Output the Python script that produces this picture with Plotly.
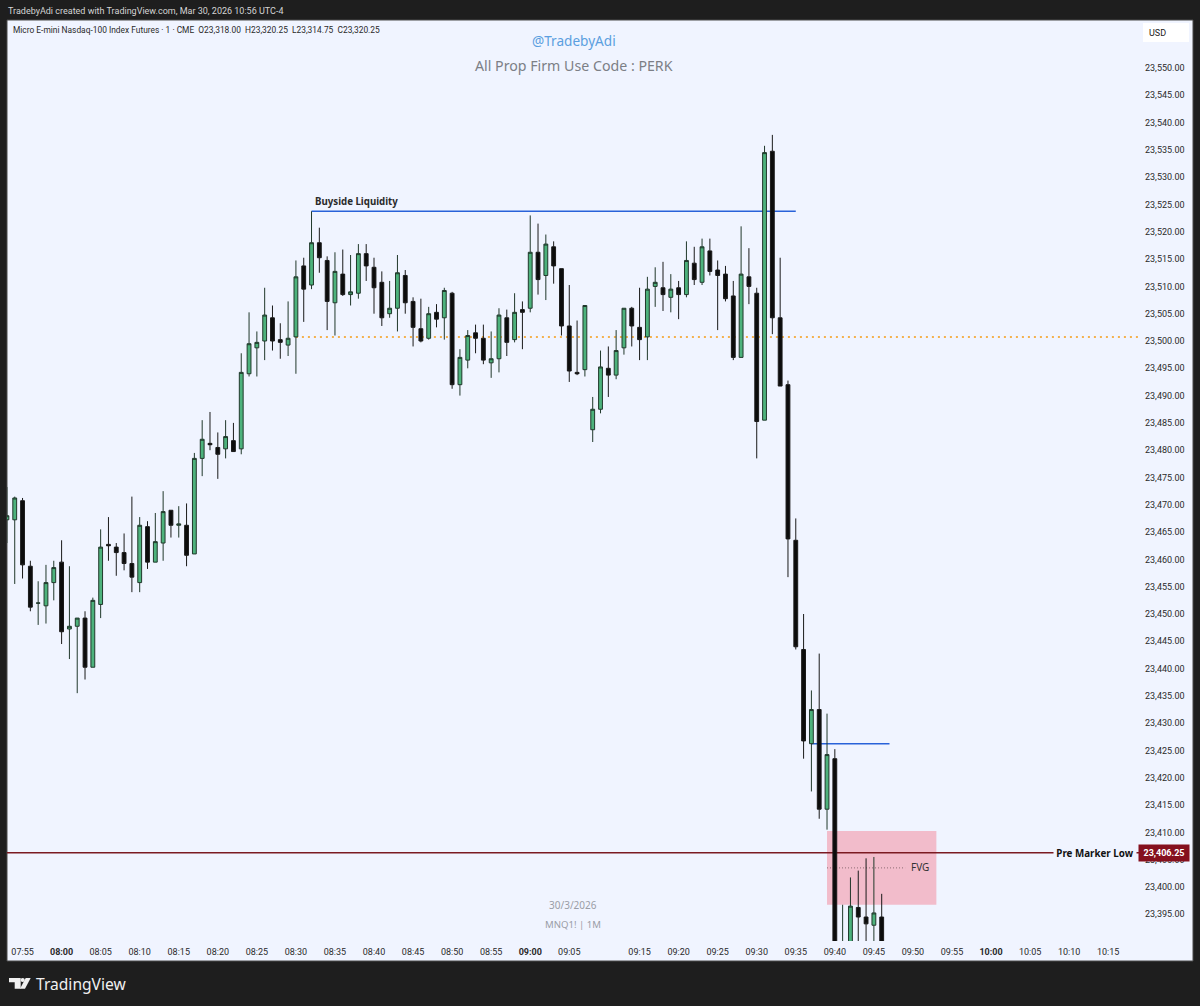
# MNQ 1 minute chart, TradingView look
import plotly.graph_objects as go

times = ["07:53","07:54","07:55","07:56","07:57","07:58","07:59",
         "08:00","08:01","08:02","08:03","08:04","08:05","08:06","08:07","08:08","08:09",
         "08:10","08:11","08:12","08:13","08:14","08:15","08:16","08:17","08:18","08:19",
         "08:20","08:21","08:22","08:23","08:24","08:25","08:26","08:27","08:28","08:29",
         "08:30","08:31","08:32","08:33","08:34","08:35","08:36","08:37","08:38","08:39",
         "08:40","08:41","08:42","08:43","08:44","08:45","08:46","08:47","08:48","08:49",
         "08:50","08:51","08:52","08:53","08:54","08:55","08:56","08:57","08:58","08:59",
         "09:00","09:01","09:02","09:03","09:04","09:05","09:06","09:07","09:08","09:09",
         "09:11","09:12","09:13","09:14","09:15","09:16","09:17","09:18","09:19",
         "09:20","09:21","09:22","09:23","09:24","09:25","09:26","09:27","09:28","09:29",
         "09:30","09:31","09:32","09:33","09:34","09:35","09:36","09:37","09:38","09:39",
         "09:40","09:41","09:42","09:43","09:44","09:45","09:46"]

future_times = ["09:47","09:48","09:49","09:50","09:51","09:52","09:53","09:54","09:55","09:56",
                "09:57","09:58","09:59","10:00","10:01","10:02","10:03","10:04","10:05","10:06",
                "10:07","10:08","10:09","10:10","10:11","10:12","10:13","10:14","10:15","10:16",
                "10:17","10:18","10:19","10:20"]

opens = [23467.25,23467.25,23470.75,23458.75,23452,23451.5,23455.75,
         23459.5,23447.25,23447.75,23449.25,23440.25,23451.75,23462.75,23462.25,23461.25,23459.25,
         23455.75,23466,23459.5,23463,23469,23466.25,23466.25,23461,23478.5,23481.25,
         23480.5,23480.25,23481.75,23480.25,23494,23498.75,23500,23504.25,23500.25,23499.25,
         23500.75,23513.75,23510.25,23518,23514.75,23507,23512.25,23508.5,23508.75,23516,
         23513.5,23510.75,23505,23506,23512,23507.25,23502.25,23500.5,23505.25,23504.25,
         23508.75,23492,23496.5,23501.5,23500.5,23496,23496.75,23504.25,23500.25,23505.75,
         23506,23516.25,23512,23517.25,23513.25,23502.75,23494.25,23494.75,23483.75,23487.5,
         23495,23493.75,23498.75,23506,23502.5,23500.75,23510,23509.75,23508,
         23509.75,23508.5,23514.25,23510.75,23516.5,23513,23512.25,23508.25,23497,23511.75,
         23508.75,23485.5,23534.75,23504.25,23492,23463.5,23443.5,23426.25,23432.5,23414.25,
         23423.5,23386,23388,23396.25,23394.5,23393,23394.5]

highs = [23473.25,23471.5,23471.25,23459.75,23456,23459,23459.75,
         23463.5,23458.75,23449.25,23450.5,23453,23465.5,23467.75,23463,23464.75,23471.5,
         23467.75,23467,23468.5,23472.5,23469,23469.75,23470.25,23479.5,23485.5,23487,
         23483.25,23485.5,23485,23497.75,23505.25,23501.75,23509.75,23506.5,23503.25,23507.25,
         23514.75,23515.25,23523.75,23520.75,23515.5,23516.25,23516.75,23515.75,23517.75,23517.75,
         23515.25,23512.75,23511,23515.75,23513,23508,23507.75,23506.25,23506.75,23509.75,
         23509,23498.5,23502,23503,23503,23501.75,23506,23505.75,23508.75,23507.25,
         23523,23521.5,23519.5,23518.25,23513.25,23510.25,23503.75,23506.5,23489.75,23498.25,
         23499,23502,23506,23506.25,23509.75,23511.75,23513.5,23514.5,23512.25,
         23511,23518.25,23517.25,23518.75,23518.75,23514.75,23513.75,23511,23521,23517,
         23509.75,23535.75,23537.75,23515.25,23492.75,23467.5,23450,23436,23442.75,23431.75,
         23425.25,23396.75,23401.75,23403,23405.25,23405.5,23398.75]

lows = [23463,23455.5,23456.5,23450.5,23448,23448.25,23452.5,
        23444.5,23441.75,23435.5,23438,23440.25,23449.25,23459.75,23457,23458,23454,
        23454,23458.25,23459.5,23459.75,23464,23464,23458.75,23461,23475.25,23480,
        23474.75,23478.5,23479.75,23479.25,23493.5,23493.5,23496.5,23498.25,23496.75,23497.25,
        23494,23503.5,23509.5,23512.5,23502,23501,23508.25,23506.5,23507.75,23511,
        23505,23502.75,23504.25,23501.75,23505,23499,23499.75,23500.25,23502.5,23500.25,
        23491.25,23490,23495,23497.75,23495.75,23493.25,23494.25,23497.25,23499.75,23498.5,
        23505.25,23508.5,23507.5,23510.5,23501,23492.5,23493.75,23493.5,23481.5,23486.75,
        23489.75,23493,23497.5,23499,23496.5,23496.5,23506.25,23505.5,23505.25,
        23504,23508,23510.25,23510.25,23512,23502,23507.25,23496.5,23497,23506.75,
        23478.5,23485.5,23501.25,23491.75,23456.75,23443.5,23423.5,23417.5,23412.5,23410.5,
        23384,23382,23386,23388,23389,23389,23388]

closes = [23468,23471.25,23459,23451.25,23452,23455.75,23458.5,
          23446.75,23447.75,23449.25,23440.25,23452.5,23462.25,23462.5,23461.25,23459.25,23456.75,
          23466.25,23459.5,23463.25,23468.75,23466.25,23466.5,23460.75,23478.5,23482,23481,
          23479.25,23482.5,23479.75,23494.25,23499.5,23499.75,23504.75,23500,23499.75,23500.5,
          23511.75,23509.5,23518,23515.25,23507.25,23512.75,23508.5,23509,23516,23513.75,
          23509.75,23504.25,23506,23512.5,23507,23502.5,23500,23505,23504,23509.25,
          23492,23497,23501,23500.5,23496.5,23496.75,23504.75,23499.75,23505.25,23505.25,
          23516.25,23511.25,23517.75,23513.75,23502.75,23494.5,23494,23506.5,23487.5,23495.25,
          23493.75,23498.25,23506,23502.75,23500.25,23509.5,23510.75,23508.5,23509.5,
          23508.5,23514.75,23511.25,23517.25,23512.75,23512,23507.75,23497,23512.25,23510,
          23485.25,23534.5,23504.25,23491.75,23463.75,23444,23426.75,23432.5,23414.25,23424.25,
          23386,23388,23396.5,23394.5,23393.25,23395.25,23389]

tick_times = ["07:55","08:00","08:05","08:10","08:15","08:20","08:25","08:30","08:35","08:40",
              "08:45","08:50","08:55","09:00","09:05","09:15","09:20","09:25","09:30","09:35",
              "09:40","09:45","09:50","09:55","10:00","10:05","10:10","10:15"]
bold_times = ["08:00","09:00","10:00"]

price_ticks = [23395,23400,23405,23410,23415,23420,23425,23430,23435,23440,23445,23450,
               23455,23460,23465,23470,23475,23480,23485,23490,23495,23500,23505,23510,
               23515,23520,23525,23530,23535,23540,23545,23550]

pre_market_low = 23406.25
buyside_level = 23523.75
orange_level = 23500.75
second_level = 23426.25
fvg_top = 23410.25
fvg_bottom = 23396.75
fvg_mid = 23403.5

PANEL = "#f0f4ff"
DARK = "#1e1e1e"
FONT = "Noto Sans"
SMALL_FONT = "Roboto"


# page pixels to paper coords
def px(x):
    return (x - 7) / 1134


def py(y):
    return (941 - y) / 921


fig = go.Figure(go.Candlestick(
    x=times, open=opens, high=highs, low=lows, close=closes,
    increasing=dict(fillcolor="#4db27c", line=dict(color="#20382b", width=1)),
    decreasing=dict(fillcolor="#0c0c0c", line=dict(color="#1a1a1a", width=1)),
    whiskerwidth=0,
    showlegend=False,
))


def hline(y, x0, x1, color, width, dash="solid"):
    return dict(type="line", layer="below", xref="x", yref="y", x0=x0, x1=x1, y0=y, y1=y,
                line=dict(color=color, width=width, dash=dash))


def note(text, x, y, size=10, color="#222222", anchor="left", bold=False, family=FONT, **kw):
    if bold:
        text = "<b>" + text + "</b>"
    return dict(text=text, xref="paper", yref="paper", x=px(x), y=py(y), showarrow=False,
                xanchor=anchor, yanchor="middle", font=dict(family=family, size=size, color=color), **kw)


shapes = [
    # chart panel, also under the axis labels
    dict(type="rect", layer="below", xref="paper", yref="paper", x0=px(7), x1=px(1193), y0=py(961), y1=py(20),
         fillcolor=PANEL, line=dict(color="#4a4a4a", width=1)),
    dict(type="rect", layer="below", xref="x", yref="y", x0="09:39", x1="09:53", y0=fvg_bottom, y1=fvg_top,
         fillcolor="#f2bccb", line=dict(width=0)),
    hline(buyside_level, "08:32", "09:35", "#2962d9", 1.5),
    hline(orange_level, "08:30", "10:19", "#f59a14", 1.5, "2px,4px"),
    hline(second_level, "09:37", "09:47", "#2962d9", 1.5),
    hline(pre_market_low, "07:53", "10:20", "#7b1a22", 1.5),
    hline(fvg_mid, "09:39", "09:49", "#8c6a72", 1, "1px,2px"),
    # USD button
    dict(type="rect", xref="paper", yref="paper", x0=px(1143), x1=px(1189), y0=py(42), y1=py(23),
         fillcolor="#ffffff", line=dict(width=0)),
    # TradingView logo
    dict(type="path", xref="paper", yref="paper", fillcolor="#f0f0f0", line=dict(width=0),
         path=f"M {px(9)} {py(978)} L {px(20.7)} {py(978)} L {px(20.7)} {py(988.7)} L {px(14.7)} {py(988.7)} "
              f"L {px(14.7)} {py(982.3)} L {px(9)} {py(982.3)} Z"),
    dict(type="circle", xref="paper", yref="paper", fillcolor="#f0f0f0", line=dict(width=0),
         x0=px(20.6), x1=px(24.8), y0=py(982.1), y1=py(977.9)),
    dict(type="path", xref="paper", yref="paper", fillcolor="#f0f0f0", line=dict(width=0),
         path=f"M {px(25.7)} {py(978)} L {px(30.7)} {py(978)} L {px(25)} {py(988.7)} L {px(20)} {py(988.7)} Z"),
]

annotations = [
    note("TradebyAdi created with TradingView.com, Mar 30, 2026 10:56 UTC-4", 6, 11, 9, "#d4d4d4", family=SMALL_FONT),
    note("Micro E-mini Nasdaq-100 Index Futures · 1 · CME  O23,318.00  H23,320.25  L23,314.75  C23,320.25",
         11, 30, 8.4, "#2a2a2a", family=SMALL_FONT),
    note("@TradebyAdi", 574, 40, 13.6, "#5b9fe0", "center"),
    note("All Prop Firm Use Code : PERK", 574, 65, 14.2, "#7c7f86", "center"),
    note("USD", 1147, 33, 9, "#222222", family=SMALL_FONT),
    note("Buyside Liquidity", 313, 202, 9.7, "#2a2a2a", bold=True),
    note("FVG", 920, 867, 10, "#333333", "center"),
    note("30/3/2026", 573, 905, 10, "#9a9da6", "center"),
    note("MNQ1! | 1M", 573, 924, 9.6, "#9a9da6", "center"),
    note("Pre Marker Low", 1095, 853, 9.8, "#111111", "center", bold=True, bgcolor=PANEL, width=80, height=14),
    note("23,406.25", 1164, 853, 9, "#ffffff", "center", bold=True, family=SMALL_FONT, bgcolor="#85101e", width=48, height=14),
    note("TradingView", 34, 984, 15.6, "#f0f0f0"),
]

fig.update_layout(
    width=1200, height=1006,
    margin=dict(l=7, r=59, t=20, b=65),
    paper_bgcolor=DARK,
    plot_bgcolor=PANEL,
    shapes=shapes,
    annotations=annotations,
    font=dict(family=SMALL_FONT, size=9, color="#2a2a2a"),
    xaxis=dict(
        type="category",
        categoryorder="array",
        categoryarray=times + future_times,
        range=[0.01, 145.2],
        rangeslider=dict(visible=False),
        tickmode="array",
        tickvals=tick_times,
        ticktext=["<b>" + t + "</b>" if t in bold_times else t for t in tick_times],
        showgrid=False, zeroline=False, showline=False, ticks="",
        ticklabelstandoff=4,
        tickfont=dict(family=SMALL_FONT, size=9, color="#2a2a2a"),
    ),
    yaxis=dict(
        side="right",
        range=[23390.11, 23558.79],
        tickmode="array",
        tickvals=price_ticks,
        tickformat=",.2f",
        showgrid=False, zeroline=False, showline=False, ticks="",
        ticklabelstandoff=3,
        tickfont=dict(family=SMALL_FONT, size=9, color="#2a2a2a"),
    ),
)

# page margin would push the chart 8px off
fig.write_html("out.html", config=dict(displayModeBar=False),
               post_script="document.body.style.margin='0';")
